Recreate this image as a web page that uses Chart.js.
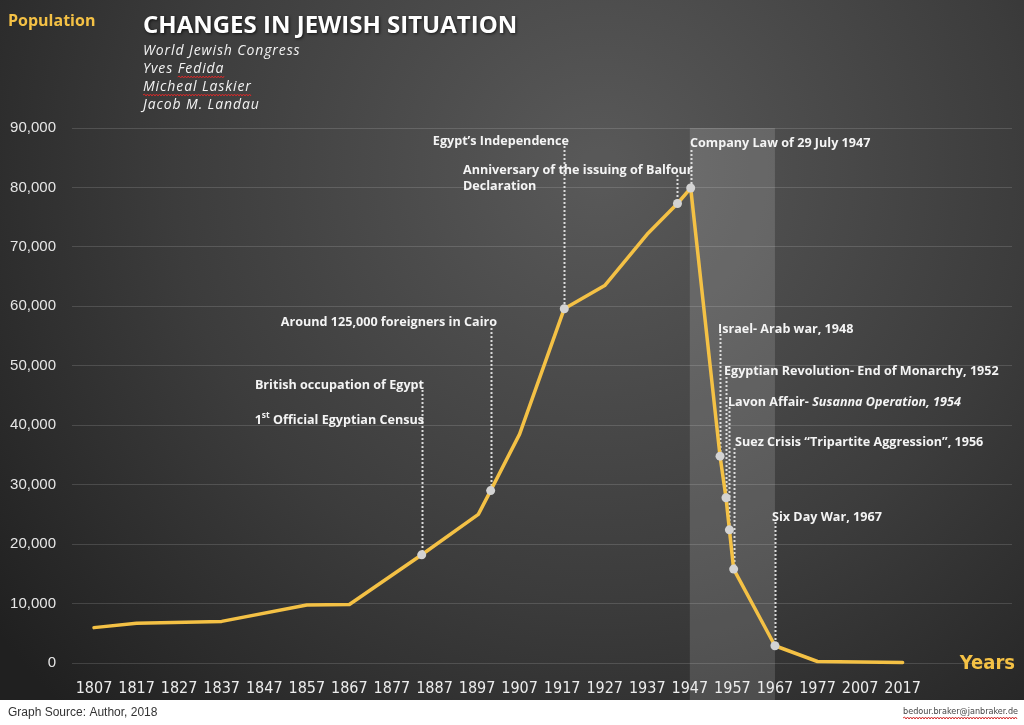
<!DOCTYPE html>
<html><head><meta charset="utf-8">
<script src="https://cdn.jsdelivr.net/npm/chart.js@4"></script>
<style>html,body{margin:0;padding:0;background:#fff;} canvas{display:block}</style>
</head><body>
<canvas id="c" width="1024" height="725"></canvas>
<script>
// ---- data ----
const yearLabels = ['1807','1817','1827','1837','1847','1857','1867','1877','1887','1897','1907','1917','1927','1937','1947','1957','1967','1977','2007','2017'];
// position of each point along the category axis (index into yearLabels, fractional = between labels)
const pointPos   = [0, 1, 3, 5, 6, 7.7, 9.03, 9.32, 10, 11.05, 12, 13.02, 13.71, 14.02, 14.71, 14.85, 14.93, 15.03, 16, 17, 18, 19];
const population = [5950, 6700, 7000, 9750, 9850, 18200, 25000, 29000, 38500, 59600, 63500, 72300, 77300, 79900, 34800, 27800, 22400, 15800, 2900, 250, 180, 100];
const yTicks = [0,10000,20000,30000,40000,50000,60000,70000,80000,90000];
const notedPoints = [5, 7, 9, 12, 13, 14, 15, 16, 17, 18];

// annotation texts (point = index into pointPos/population)
const notes = [
  {point:5,  top:390, texts:[{kind:'plain', s:'British occupation of Egypt', x:424, y:385, align:'right'},
                             {kind:'census', x:424, y:420, align:'right'}]},
  {point:7,  top:328, texts:[{kind:'plain', s:'Around 125,000 foreigners in Cairo', x:497, y:322, align:'right'}]},
  {point:9,  top:146, texts:[{kind:'plain', s:"Egypt\u2019s Independence", x:569, y:141, align:'right'}]},
  {point:12, top:175, texts:[{kind:'plain', s:'Anniversary of the issuing of Balfour', x:463, y:170, align:'left'},
                             {kind:'plain', s:'Declaration', x:463, y:186, align:'left'}]},
  {point:13, top:150, texts:[{kind:'plain', s:'Company Law of 29 July 1947', x:690, y:143, align:'left'}]},
  {point:14, top:334, texts:[{kind:'plain', s:'Israel- Arab war, 1948', x:718, y:329, align:'left'}]},
  {point:15, top:377, texts:[{kind:'plain', s:'Egyptian Revolution- End of Monarchy, 1952', x:724, y:371, align:'left'}]},
  {point:16, top:407, texts:[{kind:'lavon', x:728, y:402, align:'left'}]},
  {point:17, top:448, texts:[{kind:'plain', s:'Suez Crisis \u201cTripartite Aggression\u201d, 1956', x:735, y:442, align:'left'}]},
  {point:18, top:522, texts:[{kind:'plain', s:'Six Day War, 1967', x:772, y:517, align:'left'}]}
];

const GOLD = '#F4C145';
const ANN = "700 12.6px 'Open Sans', sans-serif";
const ANN_I = "italic 700 12.6px 'Open Sans', sans-serif";
const ANN_SUP = "700 8.5px 'Open Sans', sans-serif";

function squiggle(ctx, x1, x2, y){
  ctx.save(); ctx.strokeStyle='#d42a2a'; ctx.lineWidth=1; ctx.beginPath();
  let up=true; ctx.moveTo(x1,y);
  for(let x=x1+1.5; x<=x2; x+=1.5){ ctx.lineTo(x, y + (up?-1:1)); up=!up; }
  ctx.stroke(); ctx.restore();
}

const bgPlugin = {
  id:'bg',
  beforeDraw(chart){
    const ctx = chart.ctx, W = chart.width, H = chart.height;
    ctx.save();
    const g = ctx.createRadialGradient(600, 170, 20, 600, 170, 760);
    g.addColorStop(0, '#585858');
    g.addColorStop(0.55, '#3c3c3c');
    g.addColorStop(1, '#202020');
    ctx.fillStyle = g; ctx.fillRect(0,0,W,700);
    ctx.fillStyle = '#ffffff'; ctx.fillRect(0,700,W,H-700);
    // shaded period band 1947-1967
    const xs = chart.scales.x, ys = chart.scales.y;
    const bx1 = xs.getPixelForValue(14), bx2 = xs.getPixelForValue(16);
    ctx.fillStyle = 'rgba(255,255,255,0.14)';
    ctx.fillRect(bx1, ys.getPixelForValue(90000), bx2-bx1, 700 - ys.getPixelForValue(90000));
    ctx.restore();
  },
  beforeDatasetsDraw(chart){
    const ctx = chart.ctx, xs = chart.scales.x, ys = chart.scales.y;
    ctx.save();
    ctx.strokeStyle = 'rgba(228,228,228,0.95)'; ctx.lineWidth = 2; ctx.setLineDash([2,2]);
    notes.forEach(n => {
      const px = Math.round(xs.getPixelForValue(pointPos[n.point])) + 0.5;
      const py = ys.getPixelForValue(population[n.point]);
      ctx.beginPath(); ctx.moveTo(px, n.top); ctx.lineTo(px, py); ctx.stroke();
    });
    ctx.restore();
  },
  afterDraw(chart){
    const ctx = chart.ctx;
    ctx.save();
    // axis names
    ctx.fillStyle = GOLD; ctx.textBaseline='middle'; ctx.textAlign='left';
    ctx.font = "700 16px 'Open Sans', sans-serif";
    ctx.fillText('Population', 8, 21);
    ctx.font = "700 20px 'Liberation Sans Narrow', 'DejaVu Sans Condensed', sans-serif";
    ctx.textAlign='right';
    ctx.fillText('Years', 1015, 664);
    // title
    ctx.textAlign='left';
    ctx.save();
    ctx.shadowColor='rgba(0,0,0,0.7)'; ctx.shadowBlur=3; ctx.shadowOffsetX=1; ctx.shadowOffsetY=1;
    ctx.fillStyle='#ffffff';
    ctx.font = "700 24px 'Open Sans', sans-serif";
    ctx.fillText('CHANGES IN JEWISH SITUATION', 143, 26, 376);
    ctx.restore();
    ctx.fillStyle='#f2f2f2';
    ctx.font = "italic 14px 'Open Sans', sans-serif";
    ctx.letterSpacing = '0.9px';
    const subs = ['World Jewish Congress','Yves Fedida','Micheal Laskier','Jacob M. Landau'];
    subs.forEach((s,i)=>ctx.fillText(s, 143, 51 + i*18));
    const yvesW = ctx.measureText('Yves ').width, fedW = ctx.measureText('Yves Fedida').width;
    const mlW = ctx.measureText('Micheal Laskier').width;
    ctx.letterSpacing = '0px';
    squiggle(ctx, 143 + yvesW, 143 + fedW, 77);
    squiggle(ctx, 143, 143 + mlW, 95);

    // annotations
    ctx.fillStyle = '#f4f4f4';
    notes.forEach(n => n.texts.forEach(t => {
      ctx.textAlign = 'left';
      if (t.kind === 'plain') {
        ctx.font = ANN;
        const w = ctx.measureText(t.s).width;
        const x0 = t.align === 'right' ? t.x - w : t.x;
        ctx.fillText(t.s, x0, t.y);
      } else if (t.kind === 'census') {
        ctx.font = ANN; const a = '1', c = ' Official Egyptian Census';
        const wa = ctx.measureText(a).width, wc = ctx.measureText(c).width;
        ctx.font = ANN_SUP; const wb = ctx.measureText('st').width;
        let x0 = t.x - (wa + wb + wc);
        ctx.font = ANN; ctx.fillText(a, x0, t.y);
        ctx.font = ANN_SUP; ctx.fillText('st', x0 + wa, t.y - 4);
        ctx.font = ANN; ctx.fillText(c, x0 + wa + wb, t.y);
      } else if (t.kind === 'lavon') {
        ctx.font = ANN; const a = 'Lavon Affair- ';
        ctx.fillText(a, t.x, t.y);
        const wa = ctx.measureText(a).width;
        ctx.font = ANN_I; ctx.fillText('Susanna Operation, 1954', t.x + wa, t.y);
      }
    }));

    // footer
    ctx.fillStyle = '#333333'; ctx.textAlign='left';
    ctx.font = "12px 'Liberation Sans', sans-serif";
    ctx.fillText('Graph Source: Author, 2018', 8, 713);
    ctx.textAlign='right';
    ctx.font = "9px 'Liberation Sans Narrow', 'DejaVu Sans Condensed', sans-serif";
    ctx.fillStyle = '#444444';
    ctx.fillText('bedour.braker@janbraker.de', 1018, 712);
    const ew = ctx.measureText('bedour.braker@janbraker.de').width;
    squiggle(ctx, 1018 - ew, 1018, 718);
    ctx.restore();
  }
};

const ctx = document.getElementById('c').getContext('2d');
new Chart(ctx, {
  type:'line',
  data:{datasets:[{
    data: pointPos.map((x,i)=>({x:x, y:population[i]})),
    borderColor: GOLD, borderWidth: 3.5, tension: 0,
    borderCapStyle:'round', borderJoinStyle:'round',
    pointRadius: pointPos.map((_,i)=>notedPoints.includes(i)?4.5:0),
    pointBackgroundColor:'#d3d3d3', pointBorderWidth:0, pointHoverRadius:0,
    clip:false
  }]},
  options:{
    responsive:false, animation:false, devicePixelRatio:1,
    layout:{padding:{top:128, right:12, left:0, bottom:0}},
    plugins:{legend:{display:false}, tooltip:{enabled:false}},
    scales:{
      x:{type:'linear', min:-0.517, max:21.57,
        grid:{display:false}, border:{display:false},
        afterBuildTicks: s => { s.ticks = yearLabels.map((_,i)=>({value:i})); },
        afterFit: s => { s.height = 62; },
        ticks:{autoSkip:false, maxRotation:0, padding:8, color:'#ececec',
          font:{family:"'Liberation Sans Narrow', 'DejaVu Sans Condensed', sans-serif", size:16},
          callback: v => yearLabels[v]}
      },
      y:{min:0, max:90000,
        afterBuildTicks: s => { s.ticks = yTicks.map(v=>({value:v})); },
        afterFit: s => { s.width = 72; },
        grid:{color:'rgba(255,255,255,0.14)', drawTicks:false, lineWidth:1},
        border:{display:false},
        ticks:{padding:16, color:'#e6e6e6', font:{family:"'Liberation Sans', sans-serif", size:15},
          callback: v => v.toLocaleString('en-US')}
      }
    }
  },
  plugins:[bgPlugin]
});
</script>
</body></html>
